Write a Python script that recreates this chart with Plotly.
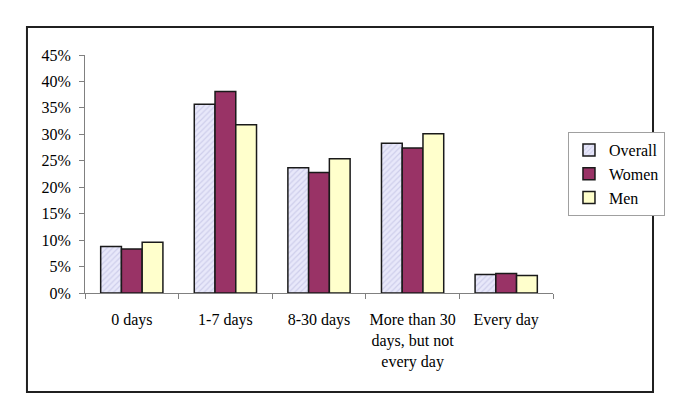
import plotly.graph_objects as go

categories = ["0 days", "1-7 days", "8-30 days", "More than 30<br>days, but not<br>every day", "Every day"]
overall = [0.088, 0.357, 0.237, 0.283, 0.035]
women = [0.083, 0.381, 0.228, 0.274, 0.037]
men = [0.096, 0.318, 0.254, 0.301, 0.033]
y_ticks = [0, 0.05, 0.10, 0.15, 0.20, 0.25, 0.30, 0.35, 0.40, 0.45]
y_tick_labels = ["0%", "5%", "10%", "15%", "20%", "25%", "30%", "35%", "40%", "45%"]

FONT = "Liberation Serif, Times New Roman, serif"

fig = go.Figure()
fig.add_trace(go.Bar(
    name="Overall", x=categories, y=overall,
    marker=dict(color="#e4e4f8", line=dict(color="#1a1a1a", width=1.5),
                pattern=dict(shape="/", fgcolor="#b4b4dc", bgcolor="#e8e8fa", size=4, solidity=0.3)),
))
fig.add_trace(go.Bar(
    name="Women", x=categories, y=women,
    marker=dict(color="#993366", line=dict(color="#1a1a1a", width=1.5)),
))
fig.add_trace(go.Bar(
    name="Men", x=categories, y=men,
    marker=dict(color="#ffffcc", line=dict(color="#1a1a1a", width=1.5)),
))

fig.update_layout(
    width=677, height=409,
    margin=dict(l=77, r=132, t=47, b=124),
    paper_bgcolor="white", plot_bgcolor="white",
    font=dict(family=FONT, size=16, color="black"),
    barmode="group", bargap=0.335, bargroupgap=0,
    showlegend=True,
    legend=dict(x=1.032, y=0.676, xanchor="left", yanchor="top",
                bordercolor="#a0a0a0", borderwidth=1, bgcolor="white",
                font=dict(family=FONT, size=16), tracegroupgap=4, itemwidth=30),
    shapes=[dict(type="rect", xref="paper", yref="paper",
                 x0=-0.124, x1=1.2137, y0=-0.416, y1=1.1176,
                 line=dict(color="#202020", width=2), fillcolor="rgba(0,0,0,0)")],
)
fig.update_xaxes(showline=True, linecolor="#808080", linewidth=1, automargin=False,
                 ticks="outside", ticklen=5, tickcolor="#808080", tickson="boundaries",
                 tickangle=0, ticklabelstandoff=12, showgrid=False,
                 tickfont=dict(family=FONT, size=16))
fig.update_yaxes(range=[0, 0.45], showline=True, linecolor="#808080", linewidth=1,
                 automargin=False, ticks="outside", ticklen=5, tickcolor="#808080",
                 tickvals=y_ticks, ticktext=y_tick_labels, ticklabelstandoff=5,
                 showgrid=False, zeroline=False, tickfont=dict(family=FONT, size=16))

fig.write_html("out.html")
